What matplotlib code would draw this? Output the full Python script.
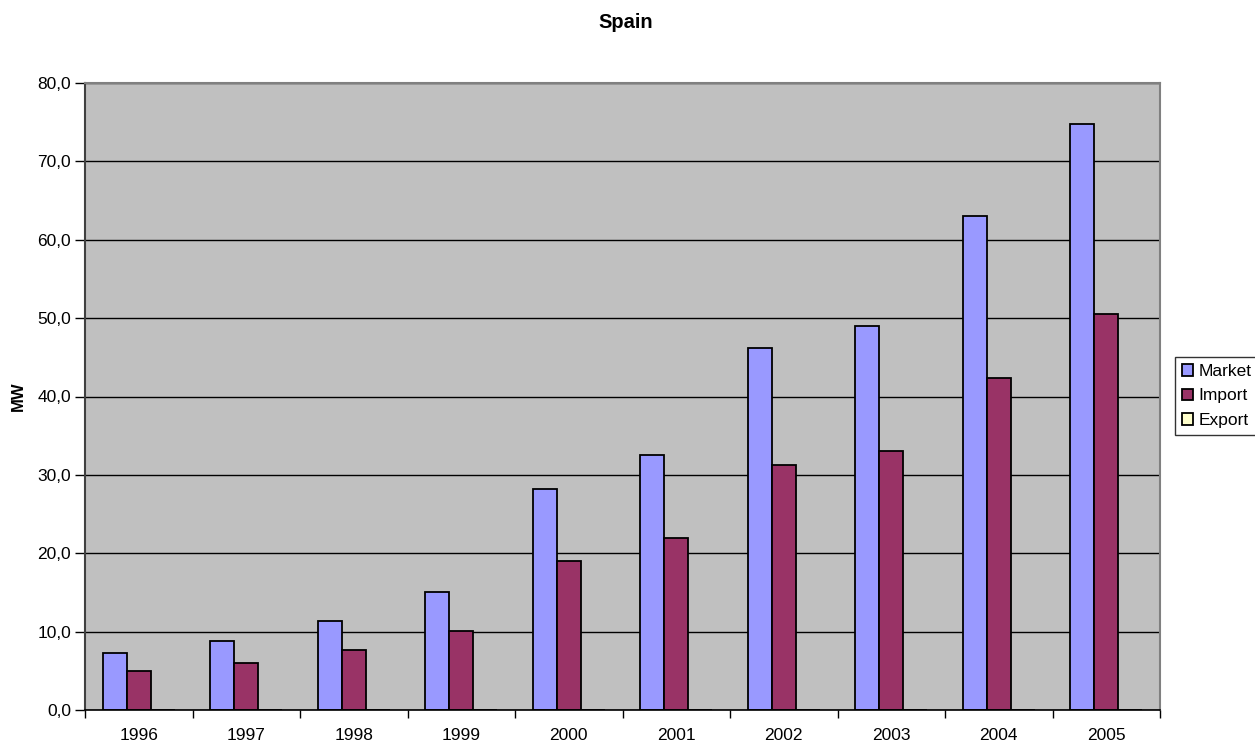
import matplotlib
matplotlib.use("Agg")
import matplotlib.pyplot as plt
import numpy as np
from matplotlib.patches import Patch
from matplotlib.ticker import FuncFormatter, MultipleLocator

plt.rcParams['font.family'] = ['Liberation Sans', 'DejaVu Sans']

years = ["1996", "1997", "1998", "1999", "2000", "2001", "2002", "2003", "2004", "2005"]
market = [7.3, 8.8, 11.4, 15.0, 28.2, 32.5, 46.2, 49.0, 63.0, 74.8]
imports = [5.0, 6.0, 7.7, 10.1, 19.0, 21.9, 31.2, 33.0, 42.4, 50.5]
exports = [0, 0, 0, 0, 0, 0, 0, 0, 0, 0]

series = [("Market", market, "#9999FF"),
          ("Import", imports, "#993366"),
          ("Export", exports, "#FFFFCC")]

fig = plt.figure(figsize=(12.55, 7.44), dpi=100)
ax = fig.add_axes([85 / 1255, 1 - 710 / 744, (1160 - 85) / 1255, (710 - 83) / 744])
ax.set_facecolor("#C0C0C0")

x = np.arange(len(years))
w = 1 / 4.5
for i, (name, vals, col) in enumerate(series):
    ax.bar(x + (i - 1) * w, vals, width=w, color=col, edgecolor="black",
           linewidth=1.3, zorder=3)

ax.set_xlim(-0.5, len(years) - 0.5)
ax.set_ylim(0, 80)
ax.yaxis.set_major_locator(MultipleLocator(10))
ax.yaxis.set_major_formatter(FuncFormatter(lambda v, p: f"{v:.1f}".replace(".", ",")))
ax.grid(axis="y", color="black", linewidth=1, zorder=1)

ax.set_xticks(x)
ax.set_xticklabels(years)
ax.set_xticks(np.arange(-0.5, len(years)), minor=True)
ax.tick_params(axis="x", which="major", length=0, pad=13, labelsize=12.5)
ax.tick_params(axis="x", which="minor", length=6, width=1, direction="out", color="black")
ax.tick_params(axis="y", length=7, width=1, direction="out", labelsize=12.5, pad=3)

for s in ["top", "right"]:
    ax.spines[s].set_color("#808080")
    ax.spines[s].set_linewidth(1.5)
ax.spines["left"].set_color("#404040")
ax.spines["left"].set_linewidth(1.5)
ax.spines["bottom"].set_color("black")
ax.spines["bottom"].set_linewidth(1.2)
ax.spines["bottom"].set_zorder(4)

fig.text(18 / 1255, 1 - 396 / 744, "MW", rotation=90, ha="center", va="center",
         fontsize=12, fontweight="bold")
fig.text(626 / 1255, 1 - 22 / 744, "Spain", ha="center", va="center",
         fontsize=14.5, fontweight="bold")

handles = [Patch(facecolor=c, edgecolor="black", linewidth=1.3, label=n) for n, _, c in series]
leg = fig.legend(handles=handles, loc="upper left",
                 bbox_to_anchor=(1175 / 1255, 1 - 357 / 744),
                 fontsize=12.5, frameon=True, fancybox=False, edgecolor="black",
                 handlelength=0.65, handleheight=0.65, handletextpad=0.3,
                 borderpad=0.4, labelspacing=0.55, borderaxespad=0)
leg.get_frame().set_linewidth(1)

fig.savefig("out.png", dpi=100)
